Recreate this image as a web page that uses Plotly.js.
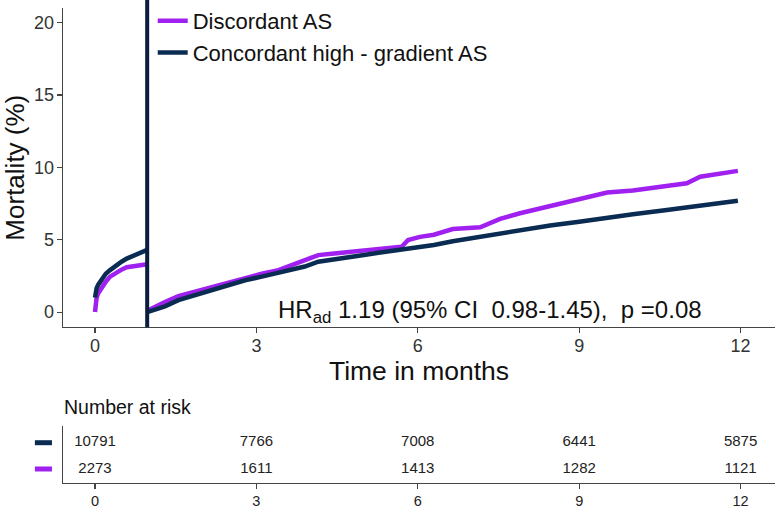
<!DOCTYPE html>
<html>
<head>
<meta charset="utf-8">
<script src="https://cdn.plot.ly/plotly-3.0.1.min.js"></script>
<style>html,body{margin:0;padding:0;background:#fff;}#chart{width:780px;height:512px;}</style>
</head>
<body>
<div id="chart"></div>
<script>
// ---- Data (months, mortality %) ----
const landmark = 0.97; // 30-day landmark (months)

const earlyT = [0, 0.01, 0.03, 0.06, 0.1, 0.15, 0.2, 0.28, 0.4, 0.5, 0.59, 0.7, 0.8, 0.9, 0.97];
const discEarlyV = [0, 0.7, 1.0, 1.3, 1.55, 1.85, 2.1, 2.45, 2.75, 2.95, 3.1, 3.18, 3.24, 3.28, 3.3];
const concEarlyV = [1.0, 1.4, 1.65, 1.9, 2.15, 2.45, 2.65, 2.9, 3.25, 3.5, 3.7, 3.88, 4.02, 4.18, 4.3];

const lateT = [0.97, 1.1, 1.3, 1.55, 1.8, 2.17, 2.5, 2.79, 3.1, 3.41, 3.72, 3.9, 4.15, 4.4, 4.65, 5.0, 5.27, 5.5, 5.7, 5.82, 6.04, 6.3, 6.65, 7.16, 7.53, 7.9, 8.46, 9.0, 9.52, 10.0, 10.63, 11.0, 11.25, 11.6, 11.95];
const discLateV = [0.1, 0.35, 0.7, 1.1, 1.35, 1.75, 2.05, 2.4, 2.65, 2.9, 3.37, 3.6, 3.94, 4.03, 4.13, 4.22, 4.34, 4.42, 4.52, 4.98, 5.2, 5.35, 5.74, 5.86, 6.44, 6.83, 7.3, 7.8, 8.26, 8.4, 8.72, 8.9, 9.36, 9.55, 9.76];
const concLateV = [0, 0.15, 0.4, 0.83, 1.1, 1.57, 1.9, 2.2, 2.45, 2.72, 2.95, 3.15, 3.48, 3.6, 3.78, 3.95, 4.1, 4.22, 4.34, 4.4, 4.48, 4.64, 4.9, 5.2, 5.45, 5.7, 5.98, 6.25, 6.55, 6.76, 7.06, 7.25, 7.4, 7.55, 7.7];

const seriesNames = ["Discordant AS", "Concordant high - gradient AS"];
const xTicks = [0, 3, 6, 9, 12];
const yTicks = [0, 5, 10, 15, 20];

// Number at risk
const riskTimes = [0, 3, 6, 9, 12];
const riskConcordant = [10791, 7766, 7008, 6441, 5875];
const riskDiscordant = [2273, 1611, 1413, 1282, 1121];

// ---- Styles ----
const purple = "#A020F0";
const navy = "#0B2C52";
const axisColor = "#444";
const font = "Liberation Sans, Arial, sans-serif";
const xRange = [-0.595, 12.64];

const traces = [
  {
    x: earlyT.concat([null], lateT),
    y: discEarlyV.concat([null], discLateV),
    name: seriesNames[0], mode: "lines", connectgaps: false,
    line: {color: purple, width: 4.5}, xaxis: "x", yaxis: "y"
  },
  {
    x: earlyT.concat([null], lateT),
    y: concEarlyV.concat([null], concLateV),
    name: seriesNames[1], mode: "lines", connectgaps: false,
    line: {color: navy, width: 4.5}, xaxis: "x", yaxis: "y"
  },
  {
    x: riskTimes, y: riskTimes.map(() => 2), text: riskConcordant.map(String),
    mode: "text", textfont: {family: font, size: 15, color: "#222"},
    showlegend: false, xaxis: "x2", yaxis: "y2", hoverinfo: "skip"
  },
  {
    x: riskTimes, y: riskTimes.map(() => 1), text: riskDiscordant.map(String),
    mode: "text", textfont: {family: font, size: 15, color: "#222"},
    showlegend: false, xaxis: "x2", yaxis: "y2", hoverinfo: "skip"
  }
];

const axisCommon = {
  showgrid: false, zeroline: false, showline: true, linecolor: axisColor, linewidth: 1.3,
  ticks: "outside", ticklen: 5, tickcolor: axisColor, tickwidth: 1.2
};

const layout = {
  width: 780, height: 512,
  margin: {l: 63, r: 5, t: 0, b: 0},
  paper_bgcolor: "#fff", plot_bgcolor: "#fff",
  font: {family: font, color: "#222"},
  showlegend: true,
  legend: {
    x: 0.126, xanchor: "left", y: 1.0, yanchor: "top",
    font: {family: font, size: 22, color: "#111"},
    bgcolor: "rgba(0,0,0,0)", tracegroupgap: 0, itemwidth: 30
  },
  xaxis: Object.assign({}, axisCommon, {
    domain: [0, 1], range: xRange, anchor: "y",
    tickvals: xTicks, ticktext: xTicks.map(String),
    tickfont: {family: font, size: 18, color: "#333"}, ticklabelstandoff: -3,
    title: {text: "Time in months", font: {family: font, size: 26.5, color: "#111"}, standoff: 2}
  }),
  yaxis: Object.assign({}, axisCommon, {
    domain: [0.361, 0.984], range: [-1.04, 21.0], anchor: "x",
    tickvals: yTicks, ticktext: yTicks.map(String),
    tickfont: {family: font, size: 18, color: "#333"}, ticklabelstandoff: -1,
    title: {text: "Mortality (%)", font: {family: font, size: 26, color: "#111"}, standoff: 5}
  }),
  xaxis2: Object.assign({}, axisCommon, {
    domain: [0, 1], range: xRange, anchor: "y2",
    tickvals: riskTimes, ticktext: riskTimes.map(String),
    tickfont: {family: font, size: 14.5, color: "#222"}, ticklabelstandoff: -1
  }),
  yaxis2: Object.assign({}, axisCommon, {
    domain: [0.0566, 0.168], range: [0.466, 2.636], anchor: "x2",
    showticklabels: false, ticks: ""
  }),
  shapes: [
    {type: "line", xref: "x", yref: "paper", x0: landmark, x1: landmark, y0: 0.361, y1: 1,
     line: {color: "#0A1C40", width: 4}},
    {type: "line", xref: "paper", yref: "y2", x0: -0.0395, x1: -0.0155, y0: 2, y1: 2,
     line: {color: navy, width: 5}},
    {type: "line", xref: "paper", yref: "y2", x0: -0.0395, x1: -0.0155, y0: 1, y1: 1,
     line: {color: purple, width: 5}}
  ],
  annotations: [
    {xref: "paper", yref: "paper", x: 0.2995, y: 1 - 311/512, xanchor: "left", yanchor: "middle",
     text: "HR<sub>ad</sub> 1.19 (95% CI  0.98-1.45),  p =0.08", showarrow: false,
     font: {family: font, size: 24, color: "#111"}},
    {xref: "paper", yref: "paper", x: -0.0015, y: 1 - 407/512, xanchor: "left", yanchor: "middle",
     text: "Number at risk", showarrow: false,
     font: {family: font, size: 19.5, color: "#111"}}
  ]
};

Plotly.newPlot("chart", traces, layout, {displayModeBar: false, staticPlot: true});
</script>
</body>
</html>
